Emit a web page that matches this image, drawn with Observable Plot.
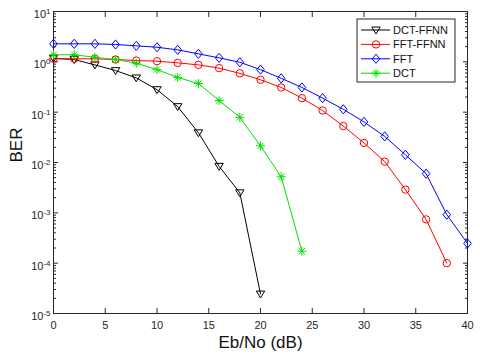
<!DOCTYPE html>
<html><head><meta charset="utf-8">
<script src="https://cdn.jsdelivr.net/npm/d3@7"></script>
<script src="https://cdn.jsdelivr.net/npm/@observablehq/plot@0.6"></script>
<style>
body{margin:0;background:#fff;}
#chart{width:480px;height:360px;}
svg{font-family:"Liberation Sans",Arial,sans-serif;}
</style></head><body><div id="chart"></div>
<script>
// ---- data ----
const ebno = [0,2,4,6,8,10,12,14,16,18,20,22,24,26,28,30,32,34,36,38,40];
const seriesNames = ["DCT-FFNN","FFT-FFNN","FFT","DCT"];
const seriesColors = ["#000000","#ff0000","#0000ff","#00e000"];
const berDctFfnn = [1.18,1.11,0.87,0.67,0.48,0.28,0.129,0.039,0.0084,0.0025,0.0000244];
const berFftFfnn = [1.15,1.15,1.15,1.11,1.06,1.03,0.955,0.87,0.75,0.59,0.44,0.31,0.19,0.108,0.053,0.0245,0.0104,0.0029,0.00074,0.0001];
const berFft = [2.28,2.28,2.28,2.21,2.08,1.95,1.73,1.44,1.20,0.98,0.70,0.47,0.31,0.19,0.114,0.064,0.033,0.0142,0.0060,0.00092,0.000247];
const berDct = [1.38,1.38,1.23,1.11,0.94,0.70,0.49,0.37,0.17,0.079,0.0214,0.0052,0.000173];
const xTicks = [0,5,10,15,20,25,30,35,40];
const yTicks = [1e-5,1e-4,1e-3,1e-2,1e-1,1,10];
const xLabel = "Eb/No (dB)";
const yLabel = "BER";

const seriesValues = [berDctFfnn, berFftFfnn, berFft, berDct];
const rows = [];
seriesNames.forEach((name, s) => seriesValues[s].forEach((v, i) => rows.push({series: name, x: ebno[i], y: v})));
const yMinor = [];
for (const d of yTicks.slice(0, -1)) for (let m = 2; m <= 9; m++) yMinor.push(d * m);

// ---- marker symbols (MATLAB-like) ----
const rad = size => Math.sqrt(size / Math.PI);
const triDown = {draw(c, size){ const r = rad(size); c.moveTo(-r, -0.7*r); c.lineTo(r, -0.7*r); c.lineTo(0, 0.95*r); c.closePath(); }};
const diamond = {draw(c, size){ const r = rad(size); c.moveTo(0, -1.15*r); c.lineTo(0.95*r, 0); c.lineTo(0, 1.15*r); c.lineTo(-0.95*r, 0); c.closePath(); }};
const circle = {draw(c, size){ const r = rad(size); c.moveTo(r, 0); c.arc(0, 0, r, 0, 2*Math.PI); }};
const star = {draw(c, size){ const r = rad(size); const d = r*Math.SQRT1_2;
  c.moveTo(-r,0); c.lineTo(r,0); c.moveTo(0,-r); c.lineTo(0,r);
  c.moveTo(-d,-d); c.lineTo(d,d); c.moveTo(-d,d); c.lineTo(d,-d); }};
const seriesSymbols = [triDown, circle, diamond, star];
const seriesR = [4.2, 3.7, 4.0, 4.5];

const ink = "#262626";
const marks = [
  Plot.axisX({anchor:"bottom", ticks:xTicks, tickSize:-5, tickFormat:()=>"", stroke:ink}),
  Plot.axisX({anchor:"top", ticks:xTicks, tickSize:-5, tickFormat:()=>"", stroke:ink}),
  Plot.axisY({anchor:"left", ticks:yTicks, tickSize:-5, tickFormat:()=>"", stroke:ink}),
  Plot.axisY({anchor:"right", ticks:yTicks, tickSize:-5, tickFormat:()=>"", stroke:ink}),
  Plot.axisY({anchor:"left", ticks:yMinor, tickSize:-3, tickFormat:()=>"", stroke:ink}),
  Plot.axisY({anchor:"right", ticks:yMinor, tickSize:-3, tickFormat:()=>"", stroke:ink}),
  Plot.axisX({anchor:"bottom", ticks:xTicks, tickSize:0, tickPadding:8, fill:ink, fontSize:11}),
  Plot.axisY({anchor:"left", ticks:yTicks, tickSize:0, tickPadding:3, dy:3, fill:ink, fontSize:11,
              tickFormat: d => "10^" + Math.round(Math.log10(d))}),
  Plot.frame({stroke:ink, strokeWidth:1}),
  Plot.text([yLabel], {frameAnchor:"left", dx:-37, rotate:-90, fontSize:17, fill:"#111"}),
  Plot.text([xLabel], {frameAnchor:"bottom", dy:34, fontSize:17, fill:"#111"})
];
seriesNames.forEach((name, s) => {
  const data = rows.filter(d => d.series === name);
  marks.push(Plot.line(data, {x:"x", y:"y", stroke: seriesColors[s], strokeWidth:1}));
  marks.push(Plot.dot(data, {x:"x", y:"y", symbol: seriesSymbols[s], r: seriesR[s], stroke: seriesColors[s], fill:"none", strokeWidth:1}));
});

const chart = Plot.plot({
  width:480, height:360,
  marginLeft:53, marginRight:13, marginTop:11, marginBottom:47,
  style:{fontFamily:'"Liberation Sans",Arial,sans-serif', fontSize:"11px", background:"white", color:ink},
  x:{domain:[0,40], label:null},
  y:{type:"log", domain:[1e-5,10], label:null},
  marks
});
document.getElementById("chart").appendChild(chart);

// superscript exponents on y tick labels
d3.select(chart).selectAll('g[aria-label="y-axis tick label"] text').each(function(){
  const t = this.textContent;
  if (!t.startsWith("10^")) return;
  const e = t.slice(3);
  const sel = d3.select(this);
  sel.text(null);
  sel.append("tspan").text("10");
  sel.append("tspan").attr("dy","-0.5em").attr("font-size","8px").text(e);
});

// legend box (MATLAB style, inside the axes)
const svg = d3.select(chart);
const lg = svg.append("g").attr("transform","translate(357,19)").attr("text-anchor","start");
lg.append("rect").attr("width",98).attr("height",63).attr("fill","white").attr("stroke",ink).attr("stroke-width",1);
seriesNames.forEach((name, s) => {
  const yy = 11 + s*14.4;
  const g = lg.append("g").attr("transform",`translate(0,${yy})`);
  g.append("line").attr("x1",4).attr("x2",33).attr("y1",0).attr("y2",0).attr("stroke",seriesColors[s]);
  g.append("path").attr("transform","translate(19,0)")
    .attr("d", d3.symbol(seriesSymbols[s], Math.PI*seriesR[s]*seriesR[s])())
    .attr("fill","none").attr("stroke",seriesColors[s]);
  g.append("text").attr("x",36).attr("y",0).attr("dy","0.35em").attr("font-size","11px")
    .attr("text-anchor","start").attr("fill","#111").text(name);
});
</script></body></html>
